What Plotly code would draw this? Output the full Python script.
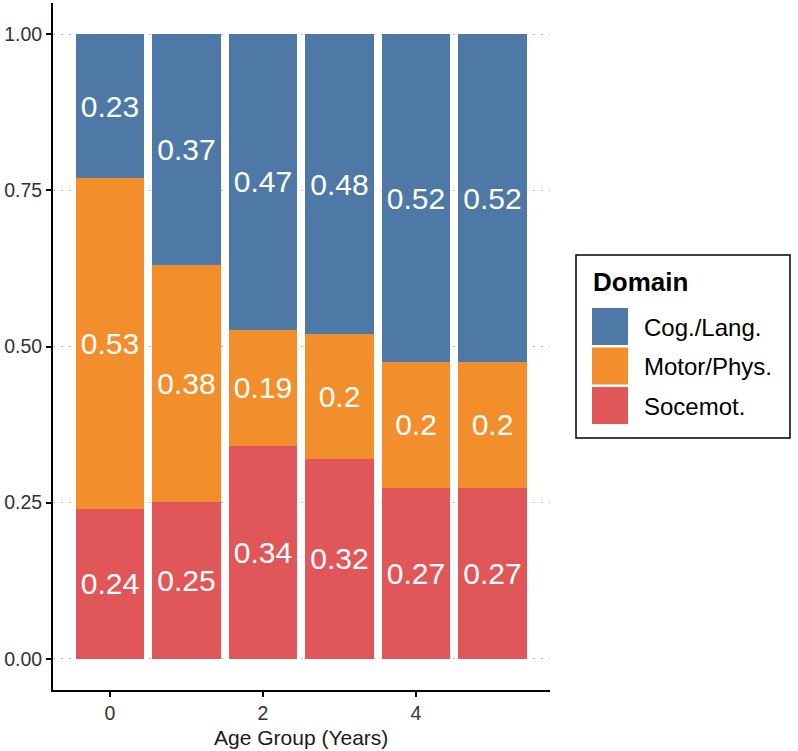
import plotly.graph_objects as go

W, H = 798, 751

age_groups = [0, 1, 2, 3, 4, 5]
domains = ["Cog./Lang.", "Motor/Phys.", "Socemot."]
colors = {"Cog./Lang.": "#4E79A7", "Motor/Phys.": "#F28E2B", "Socemot.": "#E15759"}

socemot = [0.24, 0.251, 0.341, 0.32, 0.274, 0.274]
motor = [0.53, 0.379, 0.186, 0.20, 0.201, 0.201]
cog = [0.23, 0.37, 0.473, 0.48, 0.525, 0.525]

socemot_lbl = ["0.24", "0.25", "0.34", "0.32", "0.27", "0.27"]
motor_lbl = ["0.53", "0.38", "0.19", "0.2", "0.2", "0.2"]
cog_lbl = ["0.23", "0.37", "0.47", "0.48", "0.52", "0.52"]

y_ticks = [0, 0.25, 0.5, 0.75, 1.0]
x_ticks = [0, 2, 4]

series = [("Socemot.", socemot, socemot_lbl), ("Motor/Phys.", motor, motor_lbl), ("Cog./Lang.", cog, cog_lbl)]

fig = go.Figure()
for name, vals, lbls in series:
    fig.add_trace(go.Bar(
        x=age_groups, y=vals, name=name, width=0.9,
        marker=dict(color=colors[name], line=dict(width=0)),
        text=lbls, textposition="inside", insidetextanchor="middle",
        textangle=0, constraintext="none",
        textfont=dict(color="white", size=30, family="Liberation Sans, Arial"),
        showlegend=False, hoverinfo="skip",
    ))

# plot area in pixels
px0, px1 = 53, 549.5
py_top, py_bot = 3, 690

def fx(px):
    return px / W

def fy(py):
    return 1 - py / H

fig.update_layout(
    width=W, height=H, barmode="stack",
    margin=dict(l=0, r=0, t=0, b=0),
    paper_bgcolor="white", plot_bgcolor="white",
    font=dict(family="Liberation Sans, Arial", color="#333333"),
    xaxis=dict(
        domain=[fx(px0), fx(px1)], range=[-0.745, 5.745],
        tickvals=x_ticks, ticktext=[str(v) for v in x_ticks],
        showgrid=False, zeroline=False,
        showline=True, linecolor="black", linewidth=2,
        ticks="outside", ticklen=5, tickwidth=2, tickcolor="black",
        tickfont=dict(size=19.5, color="#333333"), automargin=False,
    ),
    yaxis=dict(
        domain=[fy(py_bot), fy(py_top)], range=[-0.05, 1.05],
        tickvals=y_ticks, ticktext=["%.2f" % v for v in y_ticks],
        showgrid=True, gridcolor="#BDBDBD", gridwidth=1.2, griddash="2px,6px",
        zeroline=False,
        showline=True, linecolor="black", linewidth=2,
        ticks="outside", ticklen=5, tickwidth=2, tickcolor="black",
        tickfont=dict(size=19.5, color="#333333"), automargin=False,
    ),
)

shapes = []
annotations = []

# x axis title
annotations.append(dict(
    x=fx((px0 + px1) / 2), y=fy(737), xref="paper", yref="paper",
    text="Age Group (Years)", showarrow=False, xanchor="center", yanchor="middle",
    font=dict(size=21, color="#1a1a1a"),
))

# legend box
shapes.append(dict(type="rect", xref="paper", yref="paper",
                   x0=fx(576), x1=fx(790), y0=fy(438), y1=fy(255),
                   line=dict(color="black", width=1.5), fillcolor="rgba(0,0,0,0)"))
annotations.append(dict(
    x=fx(591), y=fy(282), xref="paper", yref="paper", text="<b>Domain</b>",
    showarrow=False, xanchor="left", yanchor="middle",
    font=dict(size=26, color="black"),
))
key_tops = [308, 347.5, 387]
for name, top in zip(domains, key_tops):
    shapes.append(dict(type="rect", xref="paper", yref="paper",
                       x0=fx(592), x1=fx(628), y0=fy(top + 37), y1=fy(top),
                       line=dict(width=0), fillcolor=colors[name]))
    annotations.append(dict(
        x=fx(642), y=fy(top + 19), xref="paper", yref="paper", text=name,
        showarrow=False, xanchor="left", yanchor="middle",
        font=dict(size=24, color="black"),
    ))

fig.update_layout(shapes=shapes, annotations=annotations)
fig.write_html("out.html")
